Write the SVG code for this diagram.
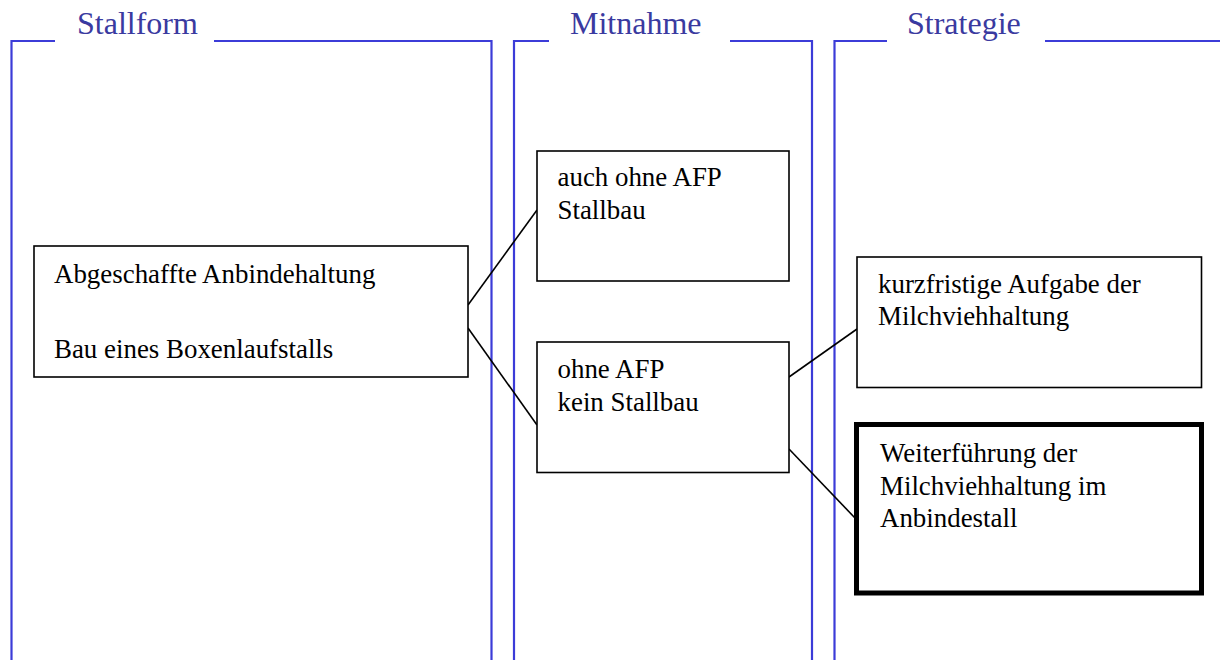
<svg xmlns="http://www.w3.org/2000/svg" width="1220" height="660" viewBox="0 0 1220 660">
<style>
.lane{fill:none;stroke:#3c3cd8;stroke-width:2.2}
.title{font-family:"Liberation Serif",serif;font-size:32px;fill:#3a3aa0}
.box{fill:#fff;stroke:#000;stroke-width:1.6}
.thick{fill:#fff;stroke:#000;stroke-width:5}
.t{font-family:"Liberation Serif",serif;font-size:26.9px;fill:#000}
.conn{fill:none;stroke:#000;stroke-width:1.6}
</style>
<rect width="1220" height="660" fill="#fff"/>
<g id="lane-stallform">
<polyline class="lane" points="55,41 11.5,41 11.5,660"/>
<polyline class="lane" points="214,41 491.5,41 491.5,660"/>
<text class="title" x="77" y="34">Stallform</text>
</g>
<g id="lane-mitnahme">
<polyline class="lane" points="549,41 514,41 514,660"/>
<polyline class="lane" points="730,41 812,41 812,660"/>
<text class="title" x="570" y="34">Mitnahme</text>
</g>
<g id="lane-strategie">
<polyline class="lane" points="887,41 834.5,41 834.5,660"/>
<line class="lane" x1="1045" y1="41" x2="1220" y2="41"/>
<text class="title" x="907" y="34">Strategie</text>
</g>
<g id="connectors">
<line class="conn" x1="468" y1="305" x2="537" y2="210"/>
<line class="conn" x1="468" y1="328" x2="537" y2="425"/>
<line class="conn" x1="789" y1="377" x2="857" y2="329"/>
<line class="conn" x1="789" y1="449" x2="855" y2="518"/>
</g>
<g id="node-abgeschaffte">
<rect class="box" x="34" y="246" width="434" height="131"/>
<text class="t" x="54" y="283">Abgeschaffte Anbindehaltung</text>
<text class="t" x="54" y="358">Bau eines Boxenlaufstalls</text>
</g>
<g id="node-auch-ohne-afp">
<rect class="box" x="537" y="151" width="252" height="130"/>
<text class="t" x="557.5" y="186">auch ohne AFP</text>
<text class="t" x="557.5" y="219">Stallbau</text>
</g>
<g id="node-ohne-afp">
<rect class="box" x="537" y="342" width="252" height="130.5"/>
<text class="t" x="557.5" y="378">ohne AFP</text>
<text class="t" x="557.5" y="411">kein Stallbau</text>
</g>
<g id="node-kurzfristige">
<rect class="box" x="857" y="257" width="344.5" height="130.5"/>
<text class="t" x="878" y="293">kurzfristige Aufgabe der</text>
<text class="t" x="878" y="325">Milchviehhaltung</text>
</g>
<g id="node-weiterfuehrung">
<rect class="thick" x="856.5" y="424.5" width="345" height="168.5"/>
<text class="t" x="880" y="462">Weiterführung der</text>
<text class="t" x="880" y="494.5">Milchviehhaltung im</text>
<text class="t" x="880" y="527">Anbindestall</text>
</g>
</svg>
